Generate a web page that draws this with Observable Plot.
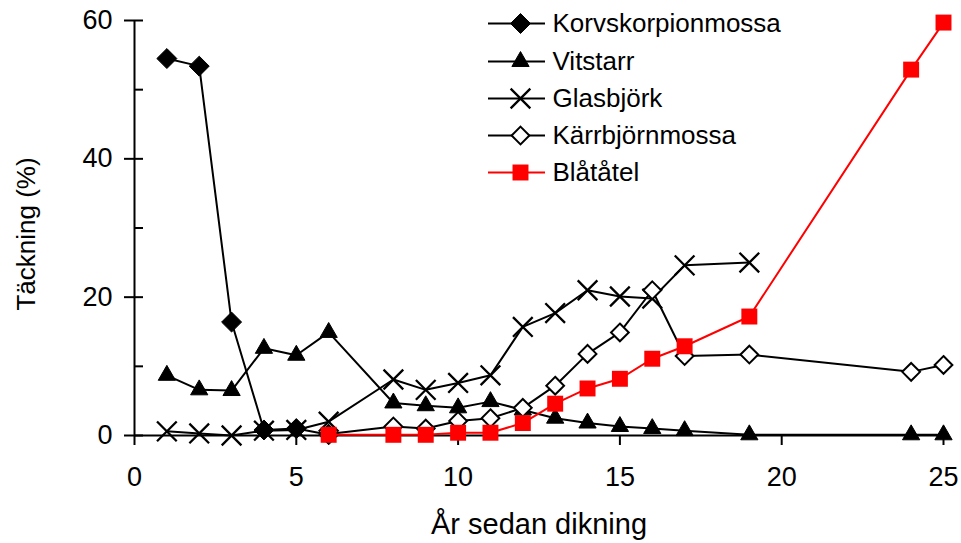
<!DOCTYPE html>
<html><head><meta charset="utf-8">
<script src="https://cdn.jsdelivr.net/npm/d3@7"></script>
<script src="https://cdn.jsdelivr.net/npm/@observablehq/plot@0.6"></script>
<style>
body{margin:0;background:#fff}
svg{font-family:"Liberation Sans",Arial,sans-serif}
</style>
</head><body><div id="chart"></div>
<script>
// ---- data ----
const seriesNames = ["Korvskorpionmossa", "Vitstarr", "Glasbjörk", "Kärrbjörnmossa", "Blåtåtel"];
const korvYears  = [1, 2, 3, 4, 5, 6];
const korvValues = [54.5, 53.4, 16.4, 0.8, 1.0, 0.1];
const vitYears   = [1, 2, 3, 4, 5, 6, 8, 9, 10, 11, 12, 13, 14, 15, 16, 17, 19, 24, 25];
const vitValues  = [8.7, 6.6, 6.5, 12.6, 11.6, 14.9, 4.7, 4.3, 4.0, 4.9, 3.7, 2.5, 1.8, 1.3, 1.0, 0.7, 0.1, 0.1, 0.1];
const glasYears  = [1, 2, 3, 4, 5, 6, 8, 9, 10, 11, 12, 13, 14, 15, 16, 17, 19];
const glasValues = [0.6, 0.3, 0.0, 0.7, 0.8, 2.0, 8.1, 6.6, 7.6, 8.7, 15.7, 17.7, 21.0, 20.1, 19.8, 24.6, 25.0];
const karrYears  = [6, 8, 9, 10, 11, 12, 13, 14, 15, 16, 17, 19, 24, 25];
const karrValues = [0.2, 1.3, 1.0, 2.1, 2.5, 4.0, 7.2, 11.8, 14.9, 21.0, 11.5, 11.7, 9.2, 10.2];
const blaYears   = [6, 8, 9, 10, 11, 12, 13, 14, 15, 16, 17, 19, 24, 25];
const blaValues  = [0.1, 0.1, 0.1, 0.4, 0.4, 1.8, 4.6, 6.8, 8.2, 11.1, 12.9, 17.2, 52.9, 59.7];
const xTicks = [0, 5, 10, 15, 20, 25];
const yTicks = [0, 20, 40, 60];
const yMinorTicks = [0, 10, 20, 30, 40, 50, 60];
const xTitle = "År sedan dikning";
const yTitle = "Täckning (%)";

// ---- styles ----
const W = 961, H = 543;
const mL = 134, mR = 18, mT = 20, mB = 108;
const styles = [
  {symbol: "diamond2", fill: "black", stroke: "black", sw: 1, r: 9, line: "black"},
  {symbol: "triangle", fill: "black", stroke: "black", sw: 1, r: 6.4, line: "black"},
  {symbol: "times", fill: "none", stroke: "black", sw: 2.3, r: 9, line: "black"},
  {symbol: "diamond2", fill: "white", stroke: "black", sw: 2, r: 8, line: "black"},
  {symbol: "square", fill: "#ff0000", stroke: "none", sw: 0, r: 9, line: "#ff0000"}
];
const seriesYears = [korvYears, vitYears, glasYears, karrYears, blaYears];
const seriesValues = [korvValues, vitValues, glasValues, karrValues, blaValues];

const xDomain = [0, 25], yDomain = [0, 60];
// pixel -> data helpers for legend placement
const px2x = px => xDomain[0] + (px - mL) / (W - mL - mR) * (xDomain[1] - xDomain[0]);
const py2y = py => yDomain[0] + (H - mB - py) / (H - mB - mT) * (yDomain[1] - yDomain[0]);
const legendRowsPx = [23, 61, 98, 135, 172];

const marks = [];
// axes lines
marks.push(Plot.ruleX([0], {y1: yDomain[0], y2: yDomain[1], stroke: "black", strokeWidth: 2}));
marks.push(Plot.ruleY([0], {x1: xDomain[0], x2: xDomain[1], stroke: "black", strokeWidth: 2}));
marks.push(Plot.axisX({ticks: xTicks, tickSize: 10, tickPadding: 21, fontSize: 27, label: null, strokeWidth: 2, stroke: "black", fill: "black"}));
marks.push(Plot.axisY({ticks: yTicks, tickSize: 10, tickPadding: 12, fontSize: 27, label: null, strokeWidth: 2, stroke: "black", fill: "black"}));
marks.push(Plot.axisY({ticks: yMinorTicks, tickSize: 9, dx: 9, fill: "none", label: null, strokeWidth: 2, stroke: "black"}));

// series
seriesNames.forEach((name, s) => {
  const st = styles[s];
  const yrs = seriesYears[s], vals = seriesValues[s];
  marks.push(Plot.line(yrs, {x: d => d, y: (d, i) => vals[i], stroke: st.line, strokeWidth: 2}));
  marks.push(Plot.dot(yrs, {x: d => d, y: (d, i) => vals[i], symbol: st.symbol, r: st.r, fill: st.fill, stroke: st.stroke, strokeWidth: st.sw}));
});

// legend
seriesNames.forEach((name, s) => {
  const st = styles[s];
  const ly = py2y(legendRowsPx[s]);
  marks.push(Plot.ruleY([ly], {x1: px2x(488), x2: px2x(545), stroke: st.line, strokeWidth: 2}));
  marks.push(Plot.dot([ly], {x: () => px2x(520), y: d => d, symbol: st.symbol, r: st.r, fill: st.fill, stroke: st.stroke, strokeWidth: st.sw}));
  marks.push(Plot.text([name], {x: () => px2x(552), y: () => ly, text: d => d, textAnchor: "start", fontSize: 26, fill: "black"}));
});

// axis titles
marks.push(Plot.text([xTitle], {frameAnchor: "bottom", dy: 98, text: d => d, textAnchor: "middle", fontSize: 29, fill: "black"}));
marks.push(Plot.text([yTitle], {frameAnchor: "left", dx: -108, dy: 6, rotate: -90, text: d => d, textAnchor: "middle", fontSize: 26, fill: "black"}));

const chart = Plot.plot({
  width: W, height: H,
  marginLeft: mL, marginRight: mR, marginTop: mT, marginBottom: mB,
  x: {domain: xDomain},
  y: {domain: yDomain},
  style: {fontFamily: '"Liberation Sans", Arial, sans-serif', background: "white", color: "black"},
  marks
});
document.getElementById("chart").appendChild(chart);
</script>
</body></html>
